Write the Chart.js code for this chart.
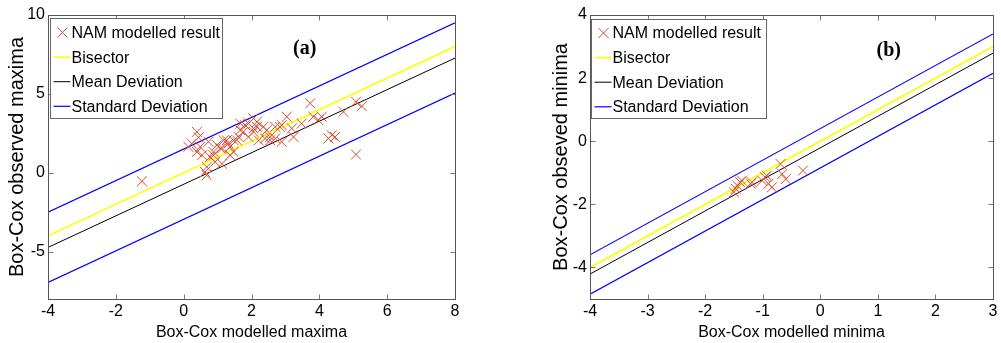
<!DOCTYPE html>
<html>
<head>
<meta charset="utf-8">
<script src="https://cdn.jsdelivr.net/npm/chart.js@4.4.1/dist/chart.umd.min.js"></script>
<style>
  html, body { margin: 0; padding: 0; background: #fff; }
  #wrap { position: relative; width: 1001px; height: 343px; overflow: hidden; background: #fff; }
  canvas { position: absolute; top: 0; }
  #ca { left: 0; }
  #cb { left: 500px; }
</style>
</head>
<body>
<div id="wrap">
  <canvas id="ca" width="500" height="343"></canvas>
  <canvas id="cb" width="501" height="343"></canvas>
</div>
<script>
// ---- panel (a): maxima ----
const xTicksA = [-4, -2, 0, 2, 4, 6, 8];
const yTicksA = [-5, 0, 5, 10];
const modelledMaxima = [-1.23, 0.14, 0.39, 0.44, 0.49, 0.54, 0.24, 0.39, 0.63, 0.68, 0.68, 0.73, 0.78, 0.88, 0.88, 0.93,
  0.98, 1.08, 1.13, 1.13, 1.18, 1.27, 1.32, 1.37, 1.37, 1.47, 1.47, 1.57, 1.62, 1.67, 1.67, 1.76, 1.81, 1.91, 1.91,
  2.06, 2.06, 2.06, 2.16, 2.16, 2.21, 2.35, 2.40, 2.45, 2.55, 2.55, 2.70, 2.70, 2.84, 2.89, 2.89, 3.04, 3.19, 3.24,
  3.48, 3.73, 3.82, 3.97, 4.07, 4.27, 4.37, 4.46, 4.71, 5.08, 5.25, 5.08];
const observedMaxima = [-0.54, 1.64, 2.59, 2.25, 1.64, 1.11, 1.85, 1.32, 0.05, -0.16, 0.37, 1.96, 1.00, 1.11, 1.32, 0.69,
  1.75, 1.54, 0.58, 1.54, 2.06, 2.06, 1.85, 1.64, 1.11, 1.32, 2.06, 2.06, 2.27, 2.70, 3.12, 2.59, 3.02, 2.27, 3.12,
  2.59, 2.81, 3.44, 2.91, 3.23, 2.06, 2.91, 2.17, 2.70, 2.06, 2.27, 2.17, 2.91, 2.91, 1.96, 3.02, 3.55, 2.81, 2.27,
  3.12, 4.40, 3.55, 3.34, 3.55, 2.17, 2.38, 2.27, 3.86, 4.50, 4.22, 1.16];
const lineXA = [-4, 8];
const bisectorA = [-4, 8];
const meanDevA = [-4.73, 7.27];
const stdUpperA = [-2.5, 9.5];
const stdLowerA = [-6.95, 5.05];

// ---- panel (b): minima ----
const xTicksB = [-4, -3, -2, -1, 0, 1, 2, 3];
const yTicksB = [-4, -2, 0, 2, 4];
const modelledMinima = [-1.50, -1.47, -1.44, -1.39, -1.36, -1.21, -1.19, -1.01, -0.96, -0.93, -0.90, -0.84, -0.69, -0.66, -0.60, -0.30];
const observedMinima = [-1.62, -1.51, -1.41, -1.30, -1.25, -1.35, -1.30, -1.25, -1.14, -1.09, -1.35, -1.46, -0.72, -1.04, -1.20, -0.93];
const lineXB = [-4, 3];
const bisectorB = [-4, 3];
const meanDevB = [-4.21, 2.79];
const stdUpperB = [-3.6, 3.4];
const stdLowerB = [-4.85, 2.15];

const FONT = 'Liberation Sans, Arial, Helvetica, sans-serif';
const MARKER = '#d94a2c';

// Axes box, inward tick marks on all four sides, legend box and panel tag
const framePlugin = {
  id: 'frame',
  afterDraw(chart, args, opts) {
    const { ctx, chartArea: a, scales: { x, y } } = chart;
    const L = Math.round(a.left) + 0.5, R = Math.round(a.right) + 0.5;
    const T = Math.round(a.top) + 0.5, B = Math.round(a.bottom) + 0.5;
    ctx.save();
    // tick marks
    ctx.strokeStyle = '#777';
    ctx.lineWidth = 1;
    const tl = 5;
    ctx.beginPath();
    x.ticks.forEach(t => {
      const px = Math.round(x.getPixelForValue(t.value)) + 0.5;
      ctx.moveTo(px, B); ctx.lineTo(px, B - tl);
      ctx.moveTo(px, T); ctx.lineTo(px, T + tl);
    });
    y.ticks.forEach(t => {
      const py = Math.round(y.getPixelForValue(t.value)) + 0.5;
      ctx.moveTo(L, py); ctx.lineTo(L + tl, py);
      ctx.moveTo(R, py); ctx.lineTo(R - tl, py);
    });
    ctx.stroke();
    // box
    ctx.strokeStyle = '#555';
    ctx.strokeRect(L, T, R - L, B - T);

    // legend
    const lg = opts.legend;
    const bx = Math.round(a.left + lg.dx) + 0.5, by = Math.round(a.top + lg.dy) + 0.5;
    ctx.fillStyle = '#fff';
    ctx.fillRect(bx, by, lg.w, lg.h);
    ctx.strokeStyle = '#666';
    ctx.strokeRect(bx, by, lg.w, lg.h);
    const seen = new Set();
    const items = chart.data.datasets.filter(d => {
      if (seen.has(d.label)) return false;
      seen.add(d.label); return true;
    });
    ctx.font = '16px ' + FONT;
    ctx.textBaseline = 'middle';
    ctx.textAlign = 'left';
    items.forEach((d, i) => {
      const cy = by + lg.row0 + i * lg.rowGap;
      if (d.showLine === false) {
        const r = 5;
        ctx.strokeStyle = d.borderColor;
        ctx.lineWidth = 1;
        ctx.beginPath();
        const cx = bx + 12;
        ctx.moveTo(cx - r, cy - r); ctx.lineTo(cx + r, cy + r);
        ctx.moveTo(cx - r, cy + r); ctx.lineTo(cx + r, cy - r);
        ctx.stroke();
      } else {
        ctx.strokeStyle = d.borderColor;
        ctx.lineWidth = d.borderWidth;
        ctx.beginPath();
        ctx.moveTo(bx + 3, cy); ctx.lineTo(bx + 20, cy);
        ctx.stroke();
      }
      ctx.fillStyle = '#000';
      ctx.fillText(d.label, bx + 21, cy + 1);
    });

    // panel tag
    const tag = opts.tag;
    ctx.font = 'bold 20px Liberation Serif, Times New Roman, serif';
    ctx.textAlign = 'center';
    ctx.fillStyle = '#000';
    ctx.fillText(tag.text, x.getPixelForValue(tag.x), y.getPixelForValue(tag.y));
    ctx.restore();
  }
};

function makeChart(id, cfg) {
  const pts = cfg.mx.map((v, i) => ({ x: v, y: cfg.my[i] }));
  const seg = ys => cfg.lineX.map((v, i) => ({ x: v, y: ys[i] }));
  const lineDs = (label, ys, color, w) => ({
    label, type: 'line', data: seg(ys), borderColor: color, borderWidth: w,
    pointRadius: 0, fill: false, tension: 0, showLine: true
  });
  return new Chart(document.getElementById(id), {
    type: 'scatter',
    data: {
      datasets: [
        { label: 'NAM modelled result', data: pts, pointStyle: 'crossRot', pointRadius: 7,
          borderColor: MARKER, backgroundColor: 'transparent', borderWidth: 1, showLine: false },
        lineDs('Bisector', cfg.bisector, '#ffff00', 1.6),
        lineDs('Mean Deviation', cfg.mean, '#000000', 1),
        lineDs('Standard Deviation', cfg.stdUp, '#0000ff', 1.2),
        lineDs('Standard Deviation', cfg.stdLo, '#0000ff', 1.2)
      ]
    },
    options: {
      responsive: false,
      animation: false,
      events: [],
      layout: { padding: { top: 15, right: cfg.padRight, bottom: 0, left: 0 } },
      plugins: {
        legend: { display: false },
        tooltip: { enabled: false },
        frame: { legend: cfg.legend, tag: cfg.tag }
      },
      scales: {
        x: {
          type: 'linear', min: cfg.xMin, max: cfg.xMax,
          afterBuildTicks: s => { s.ticks = cfg.xTicks.map(v => ({ value: v })); },
          afterFit: s => { s.height = 44; },
          grid: { display: false, drawTicks: false },
          border: { display: false },
          ticks: { color: '#000', font: { family: FONT, size: 16 }, padding: 3, maxRotation: 0, autoSkip: false },
          title: { display: true, text: cfg.xTitle, color: '#000', font: { family: FONT, size: 16 }, padding: { top: 0, bottom: 1 } }
        },
        y: {
          type: 'linear', min: cfg.yMin, max: cfg.yMax,
          afterBuildTicks: s => { s.ticks = cfg.yTicks.map(v => ({ value: v })); },
          afterFit: s => { s.width = cfg.yWidth; },
          grid: { display: false, drawTicks: false },
          border: { display: false },
          ticks: { color: '#000', font: { family: FONT, size: 16 }, padding: 3, autoSkip: false },
          title: { display: true, text: cfg.yTitle, color: '#000', font: { family: FONT, size: 20 }, padding: { top: cfg.yTitlePad, bottom: 0 } }
        }
      }
    },
    plugins: [framePlugin]
  });
}

makeChart('ca', {
  mx: modelledMaxima, my: observedMaxima, lineX: lineXA,
  bisector: bisectorA, mean: meanDevA, stdUp: stdUpperA, stdLo: stdLowerA,
  xMin: -4, xMax: 8, yMin: -8, yMax: 10, xTicks: xTicksA, yTicks: yTicksA,
  xTitle: 'Box-Cox modelled maxima', yTitle: 'Box-Cox observed maxima',
  yWidth: 48, yTitlePad: 5, padRight: 45,
  legend: { dx: 2, dy: 3, w: 172, h: 100, row0: 14, rowGap: 24.6 },
  tag: { text: '(a)', x: 3.57, y: 7.85 }
});

makeChart('cb', {
  mx: modelledMinima, my: observedMinima, lineX: lineXB,
  bisector: bisectorB, mean: meanDevB, stdUp: stdUpperB, stdLo: stdLowerB,
  xMin: -4, xMax: 3, yMin: -5, yMax: 4, xTicks: xTicksB, yTicks: yTicksB,
  xTitle: 'Box-Cox modelled minima', yTitle: 'Box-Cox obseved minima',
  yWidth: 90, yTitlePad: 49, padRight: 4,
  legend: { dx: 1, dy: 4, w: 175, h: 99, row0: 13.5, rowGap: 24.6 },
  tag: { text: '(b)', x: 1.19, y: 2.88 }
});
</script>
</body>
</html>
